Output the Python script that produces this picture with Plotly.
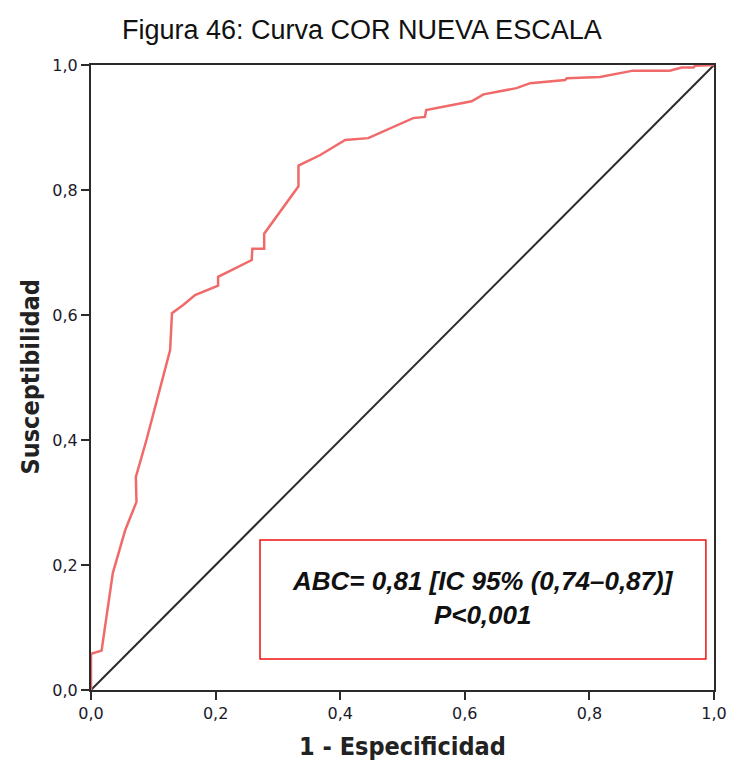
import plotly.graph_objects as go

# ROC curve (1 - specificity, sensitivity)
fpr = [0.0, 0.0, 0.017, 0.035, 0.055, 0.073, 0.072, 0.089, 0.127, 0.130, 0.148, 0.167,
       0.204, 0.204, 0.258, 0.259, 0.278, 0.278, 0.333, 0.333, 0.368, 0.408, 0.445,
       0.517, 0.536, 0.538, 0.611, 0.630, 0.683, 0.705, 0.761, 0.764, 0.817, 0.870,
       0.929, 0.948, 0.967, 0.970, 1.0]
tpr = [0.0, 0.058, 0.063, 0.187, 0.256, 0.301, 0.341, 0.400, 0.544, 0.603, 0.616, 0.632,
       0.647, 0.661, 0.688, 0.706, 0.706, 0.730, 0.806, 0.839, 0.856, 0.880, 0.883,
       0.915, 0.917, 0.928, 0.942, 0.953, 0.963, 0.971, 0.976, 0.979, 0.981, 0.991,
       0.991, 0.996, 0.996, 0.999, 1.0]
ref_x = [0.0, 1.0]
ref_y = [0.0, 1.0]
tick_vals = [0.0, 0.2, 0.4, 0.6, 0.8, 1.0]

title_text = "Figura 46: Curva COR NUEVA ESCALA"
x_title = "1 - Especificidad"
y_title = "Susceptibilidad"
box_text = "<b><i>ABC= 0,81 [IC 95% (0,74–0,87)]<br>P<0,001</i></b>"

cond = "DejaVu Sans Condensed, Roboto Condensed, Liberation Sans, sans-serif"

fig = go.Figure()
fig.add_trace(go.Scatter(x=ref_x, y=ref_y, mode="lines",
                         line=dict(color="#2b2b2b", width=2), hoverinfo="skip"))
fig.add_trace(go.Scatter(x=fpr, y=tpr, mode="lines",
                         line=dict(color="#f06a6a", width=2.5)))

axis_common = dict(range=[0, 1], tickvals=tick_vals, tickformat=".1f", automargin=False,
                   showgrid=False, zeroline=False, showline=True, linecolor="#2b2b2b",
                   linewidth=2, mirror=True, ticks="outside", ticklen=8, tickwidth=2,
                   tickcolor="#2b2b2b",
                   tickfont=dict(family="DejaVu Sans", size=16, color="#1a1a2a"))
fig.update_xaxes(**axis_common)
fig.update_yaxes(**axis_common)

fig.add_shape(type="rect", xref="paper", yref="paper", x0=0.2713, x1=0.987,
              y0=0.0496, y1=0.24, line=dict(color="#ee1111", width=1.5))

fig.add_annotation(text=box_text, xref="paper", yref="paper", x=0.629, y=0.147,
                   yanchor="middle", xanchor="center",
                   showarrow=False, align="center",
                   font=dict(family="Liberation Sans", size=26, color="#111111"))
fig.add_annotation(text=title_text, xref="paper", yref="paper", x=0.435, y=1.0,
                   yshift=35, showarrow=False, yanchor="middle",
                   font=dict(family="Liberation Sans", size=27, color="#111111"))
fig.add_annotation(text="<b>" + x_title + "</b>", xref="paper", yref="paper", x=0.5, y=0.0,
                   yshift=-56, showarrow=False, yanchor="middle",
                   font=dict(family=cond, size=25, color="#222222"))
fig.add_annotation(text="<b>" + y_title + "</b>", xref="paper", yref="paper", x=0.0, y=0.5,
                   xshift=-61, showarrow=False, textangle=-90, xanchor="center",
                   font=dict(family=cond, size=25, color="#222222"))

fig.update_layout(width=729, height=760, showlegend=False, separators=",.",
                  plot_bgcolor="white", paper_bgcolor="white",
                  margin=dict(l=91, r=15, t=65, b=70))
fig.write_html("out.html")
